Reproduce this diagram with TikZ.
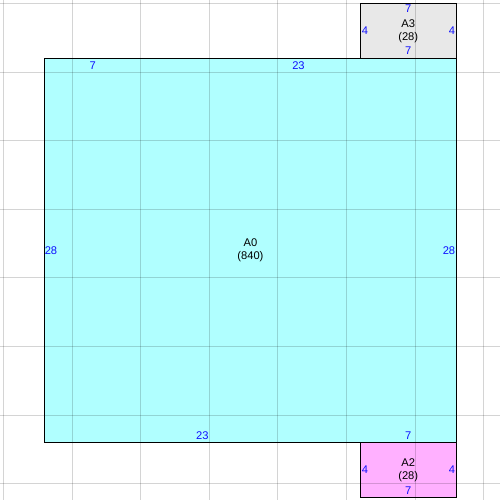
\documentclass[tikz,border=0pt]{standalone}
\usepackage{fontspec}
\setmainfont{Liberation Sans}
\usepackage{xcolor}

\definecolor{roomcyan}{HTML}{B0FFFF}
\definecolor{roomgray}{HTML}{E8E8E8}
\definecolor{roompink}{HTML}{FFB0FF}
\definecolor{dimblue}{HTML}{1010FF}

\begin{document}
\begin{tikzpicture}[x=0.363cm,y=-0.363cm,
    font=\fontsize{8.4}{9.75}\selectfont,
    dim/.style={text=dimblue,inner sep=0pt},
    roomname/.style={align=center,inner sep=0pt},
    gridline/.style={black,opacity=0.17,line width=0.7pt},
    wall/.style={draw=black,line width=0.9pt}]
    \useasboundingbox (-0.255,-0.255) rectangle (36.19,36.19);
    \fill[white] (-0.255,-0.255) rectangle (36.19,36.19);
    % rooms
    \fill[roomcyan] (3,4) rectangle (33,32);
    \fill[roomgray] (26,0) rectangle (33,4);
    \fill[roompink] (26,32) rectangle (33,36);
    % grid
    \foreach \i in {0,5,...,35} {
        \draw[gridline] (\i,-0.3) -- (\i,36.3);
        \draw[gridline] (-0.3,\i) -- (36.3,\i);
    }
    \draw[wall] (3,4) rectangle (33,32);
    \draw[wall] (26,0) rectangle (33,4);
    \draw[wall] (26,32) rectangle (33,36);
    % A3
    \node[roomname] (a3) at (29.5,2) {A3\\(28)};
    \node[dim] (a3top) at (29.5,0.40) {7};
    \node[dim] (a3bot) at (29.5,3.46) {7};
    \node[dim] (a3left) at (26.35,2) {4};
    \node[dim] (a3right) at (32.69,2) {4};
    % A0
    \node[roomname] (a0) at (18,18) {A0\\(840)};
    \node[dim] (a0topa) at (6.5,4.56) {7};
    \node[dim] (a0topb) at (21.5,4.56) {23};
    \node[dim] (a0left) at (3.46,18) {28};
    \node[dim] (a0right) at (32.47,18) {28};
    \node[dim] (a0bota) at (14.5,31.52) {23};
    \node[dim] (a0botb) at (29.5,31.52) {7};
    % A2
    \node[roomname] (a2) at (29.5,34) {A2\\(28)};
    \node[dim] (a2left) at (26.35,34) {4};
    \node[dim] (a2right) at (32.69,34) {4};
    \node[dim] (a2bot) at (29.5,35.54) {7};
\end{tikzpicture}
\end{document}
